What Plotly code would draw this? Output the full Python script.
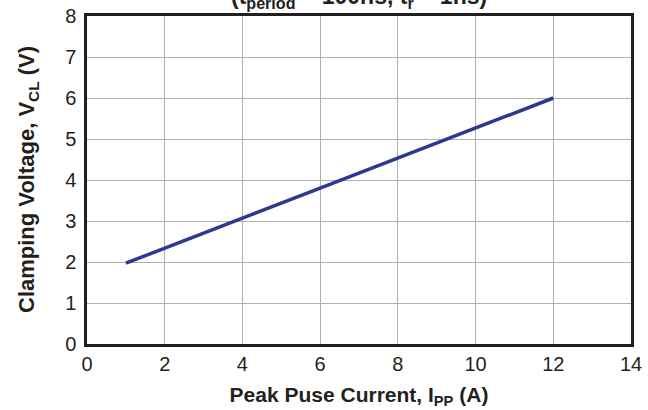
import plotly.graph_objects as go

current_a = [1, 2, 4, 6, 8, 10, 12]
clamp_v = [1.97, 2.33, 3.07, 3.8, 4.53, 5.27, 6.0]
x_ticks = [0, 2, 4, 6, 8, 10, 12, 14]
y_ticks = [0, 1, 2, 3, 4, 5, 6, 7, 8]

FONT = "Liberation Sans, Arial"
INK = "#231F20"

fig = go.Figure()
fig.add_trace(go.Scatter(x=current_a, y=clamp_v, mode="lines",
                         line=dict(color="#2B3990", width=3.5), showlegend=False))

axis_common = dict(showgrid=True, gridcolor="#B0B0B0", gridwidth=1,
                   showline=True, linecolor=INK, linewidth=2.5, mirror=True,
                   zeroline=False, automargin=False,
                   tickfont=dict(family=FONT, size=20, color=INK))

fig.update_layout(
    width=648, height=410,
    margin=dict(l=87, r=17, t=16, b=66),
    paper_bgcolor="white", plot_bgcolor="white",
    xaxis=dict(range=[0, 14], tickvals=x_ticks, ticks="",
               title=dict(text="<b>Peak Puse Current, I<sub>PP</sub> (A)</b>",
                          font=dict(family=FONT, size=21, color=INK),
                          standoff=14),
               **axis_common),
    yaxis=dict(range=[0, 8], tickvals=y_ticks,
               ticks="outside", ticklen=4, tickcolor="rgba(0,0,0,0)",
               **axis_common),
    annotations=[
        dict(text="<b>(t<sub>period</sub> = 100ns, t<sub>r</sub> = 1ns)</b>",
             xref="paper", yref="paper", x=0.5, y=1.0, yshift=2,
             xanchor="center", yanchor="bottom", showarrow=False,
             font=dict(family=FONT, size=23, color=INK)),
        dict(text="<b>Clamping Voltage, V<sub>CL</sub> (V)</b>",
             xref="paper", yref="paper", x=0, y=0.5, xshift=-59,
             xanchor="center", yanchor="middle", textangle=-90, showarrow=False,
             font=dict(family=FONT, size=22, color=INK)),
    ],
)

fig.write_html("out.html", config={"displayModeBar": False},
               post_script="document.body.style.margin='0px';")
